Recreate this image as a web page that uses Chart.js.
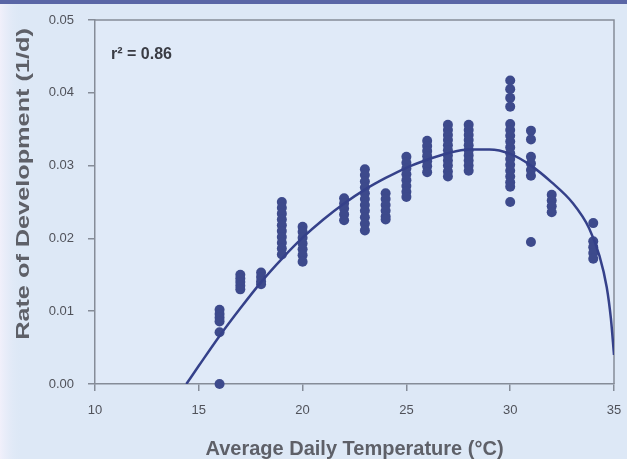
<!DOCTYPE html>
<html>
<head>
<meta charset="utf-8">
<title>Rate of Development vs Temperature</title>
<script src="https://cdn.jsdelivr.net/npm/chart.js"></script>
<style>
  html, body { margin: 0; padding: 0; background: #dde8f6; }
  #wrap { width: 627px; height: 459px; }
</style>
</head>
<body>
<div id="wrap"><canvas id="chart" width="627" height="459"></canvas></div>
<script>
// temperature columns (°C) and the rates observed at each one
const tempColumns = [16, 17, 18, 19, 20, 22, 23, 24, 25, 26, 27, 28, 30, 31, 32, 34];
const rateColumns = [
  [0.0102, 0.0096, 0.0091, 0.0086, 0.0071, 0.0000],
  [0.0150, 0.0145, 0.0140, 0.0135, 0.0130],
  [0.0153, 0.0147, 0.0141, 0.0137],
  [0.0250, 0.0242, 0.0234, 0.0226, 0.0218, 0.0210, 0.0202, 0.0194, 0.0186, 0.0178],
  [0.0216, 0.0209, 0.0201, 0.0193, 0.0185, 0.0177, 0.0168],
  [0.0255, 0.0248, 0.0241, 0.0233, 0.0225],
  [0.0295, 0.0287, 0.0278, 0.0270, 0.0262, 0.0254, 0.0246, 0.0238, 0.0229, 0.0220, 0.0211],
  [0.0262, 0.0254, 0.0246, 0.0238, 0.0230, 0.0226],
  [0.0312, 0.0304, 0.0296, 0.0288, 0.0280, 0.0272, 0.0264, 0.0257],
  [0.0334, 0.0327, 0.0320, 0.0313, 0.0306, 0.0299, 0.0291],
  [0.0356, 0.0349, 0.0342, 0.0335, 0.0328, 0.0321, 0.0314, 0.0307, 0.0300, 0.0292, 0.0285],
  [0.0356, 0.0349, 0.0342, 0.0335, 0.0328, 0.0321, 0.0314, 0.0307, 0.0300, 0.0293],
  [0.0417, 0.0405, 0.0393, 0.0381, 0.0357, 0.0349, 0.0341, 0.0333, 0.0325, 0.0317, 0.0309, 0.0301, 0.0293, 0.0285, 0.0277, 0.0271, 0.0250],
  [0.0348, 0.0336, 0.0312, 0.0303, 0.0294, 0.0286, 0.0195],
  [0.0260, 0.0252, 0.0244, 0.0236],
  [0.0221, 0.0196, 0.0188, 0.0180, 0.0172]
];

const fitTemps = [14.4, 15, 16, 17, 18, 19, 20, 21, 22, 23, 24, 25, 26, 27, 28, 29, 30, 31, 32, 33, 33.8, 34.3, 34.65, 34.85, 35];
const fitRates = [0, 0.0025, 0.0066, 0.0104, 0.0140, 0.0172, 0.0201, 0.0226, 0.0248, 0.0267, 0.0283, 0.0297, 0.0308, 0.0317, 0.0322, 0.0322, 0.0316, 0.0300, 0.0277, 0.0249, 0.0214, 0.0176, 0.0133, 0.0090, 0.0040];

const xTickValues = [10, 15, 20, 25, 30, 35];
const yTickLabels = ['0.00', '0.01', '0.02', '0.03', '0.04', '0.05'];

const axisColor = '#858c98';
const markColor = '#3d4a8c';
const titleColor = '#5e6068';
const labelFont = 'Arial, "Liberation Sans", sans-serif';

// flatten the columns into {x, y} points
const observed = [];
tempColumns.forEach((t, i) => {
  rateColumns[i].forEach(r => observed.push({ x: t, y: r }));
});
const fitted = fitTemps.map((t, i) => ({ x: t, y: fitRates[i] }));

// page background, left fade, top band, plot box and labels
const decorPlugin = {
  id: 'decor',
  beforeDraw(chart) {
    const { ctx, chartArea: a, width, height } = chart;
    ctx.save();
    ctx.fillStyle = '#dde8f6';
    ctx.fillRect(0, 0, width, height);
    const fade = ctx.createLinearGradient(0, 0, 22, 0);
    fade.addColorStop(0, '#f1f0fb');
    fade.addColorStop(1, 'rgba(221,232,246,0)');
    ctx.fillStyle = fade;
    ctx.fillRect(0, 0, 22, height);
    ctx.fillStyle = '#5a66a6';
    ctx.fillRect(0, 0, width, 4);
    ctx.fillStyle = '#e0eaf8';
    ctx.fillRect(a.left, a.top, a.right - a.left, a.bottom - a.top);
    ctx.restore();
  },
  beforeDatasetsDraw(chart) {
    const { ctx, chartArea: a } = chart;
    ctx.save();
    ctx.strokeStyle = axisColor;
    ctx.lineWidth = 1.5;
    ctx.beginPath();
    ctx.moveTo(a.left, a.top);
    ctx.lineTo(a.right, a.top);
    ctx.lineTo(a.right, a.bottom);
    ctx.stroke();
    ctx.restore();
  },
  afterDraw(chart) {
    const { ctx } = chart;
    ctx.save();
    // r squared note
    ctx.fillStyle = '#3a3c44';
    ctx.font = 'bold 16px ' + labelFont;
    ctx.textBaseline = 'alphabetic';
    ctx.fillText('r² = 0.86', 111, 59);
    // y axis title, drawn stretched along its length
    ctx.fillStyle = titleColor;
    ctx.font = 'bold 19px ' + labelFont;
    ctx.textAlign = 'center';
    ctx.textBaseline = 'middle';
    ctx.translate(24, 184);
    ctx.rotate(-Math.PI / 2);
    ctx.scale(1.33, 1);
    ctx.fillText('Rate of Development (1/d)', 0, 0);
    ctx.restore();
  }
};

new Chart(document.getElementById('chart'), {
  type: 'scatter',
  data: {
    datasets: [
      {
        label: 'Fitted',
        data: fitted,
        showLine: true,
        borderColor: '#35418a',
        borderWidth: 2.5,
        pointRadius: 0,
        cubicInterpolationMode: 'monotone',
        order: 0
      },
      {
        label: 'Observed',
        data: observed,
        backgroundColor: markColor,
        borderWidth: 0,
        pointRadius: 5,
        clip: false,
        order: 1
      }
    ]
  },
  options: {
    responsive: false,
    animation: false,
    layout: { padding: { left: 0, right: 13, top: 20, bottom: 0 } },
    plugins: {
      legend: { display: false },
      tooltip: { enabled: false }
    },
    scales: {
      x: {
        type: 'linear',
        min: 10,
        max: 35,
        afterFit: s => { s.height = 75; s.paddingLeft = 0; s.paddingRight = 0; },
        afterBuildTicks: s => { s.ticks = xTickValues.map(v => ({ value: v })); },
        grid: { drawOnChartArea: false, color: axisColor, tickLength: 7, lineWidth: 1.5 },
        border: { color: axisColor, width: 1.5 },
        ticks: {
          color: '#50525a',
          padding: 12,
          font: { family: labelFont, size: 13 }
        },
        title: {
          display: true,
          text: 'Average Daily Temperature (°C)',
          color: titleColor,
          padding: { top: 0, bottom: 0 },
          font: { family: labelFont, size: 20, weight: 'bold', lineHeight: 1 }
        }
      },
      y: {
        type: 'linear',
        min: 0,
        max: 0.05,
        afterFit: s => { s.width = 95; s.paddingTop = 0; s.paddingBottom = 0; },
        grid: { drawOnChartArea: false, color: axisColor, tickLength: 7, lineWidth: 1.5 },
        border: { color: axisColor, width: 1.5 },
        ticks: {
          stepSize: 0.01,
          color: '#50525a',
          padding: 14,
          font: { family: labelFont, size: 13 },
          callback: (v, i) => yTickLabels[i]
        }
      }
    }
  },
  plugins: [decorPlugin]
});
</script>
</body>
</html>
